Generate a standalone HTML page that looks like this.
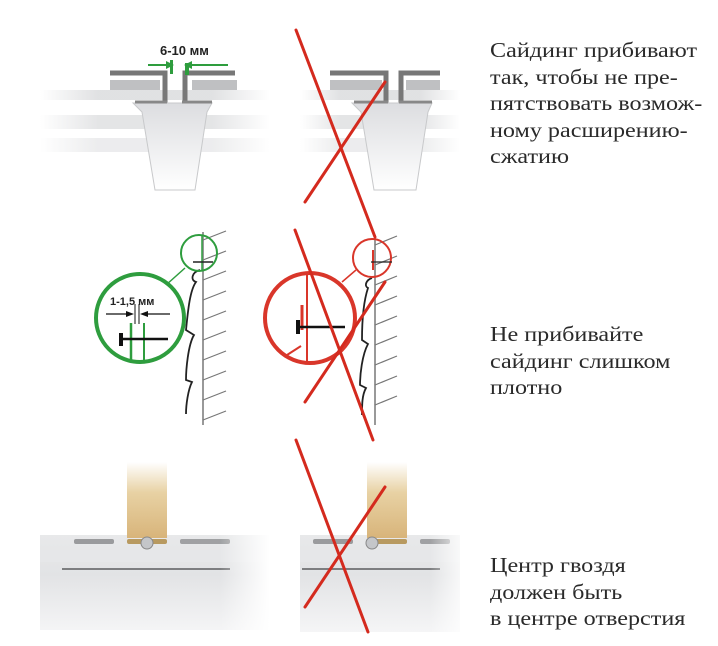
<!DOCTYPE html>
<html><head><meta charset="utf-8"><style>
html,body{margin:0;padding:0;background:#fff;}
body{width:718px;height:646px;overflow:hidden;position:relative;}
.t{position:absolute;left:490px;font-family:"Liberation Serif","Noto Serif CJK SC",serif;font-size:21px;line-height:26.5px;color:#2a2a2a;transform:scaleX(1.15);transform-origin:0 0;white-space:nowrap;}
</style></head><body>
<svg width="718" height="646" style="position:absolute;left:0;top:0">
<defs>
<linearGradient id="fadeH" x1="0" x2="1"><stop offset="0" stop-color="#fff"/><stop offset="0.25" stop-color="#d9dadc"/><stop offset="0.75" stop-color="#d9dadc"/><stop offset="1" stop-color="#fff"/></linearGradient>
<linearGradient id="tch" x1="0" y1="0" x2="0" y2="1"><stop offset="0" stop-color="#dcdde0"/><stop offset="1" stop-color="#fff"/></linearGradient>
<linearGradient id="wood" x1="0" y1="0" x2="0" y2="1"><stop offset="0" stop-color="#fff"/><stop offset="0.4" stop-color="#e8d2a4"/><stop offset="1" stop-color="#d8b47a"/></linearGradient>
<linearGradient id="rail" x1="0" y1="0" x2="0" y2="1"><stop offset="0" stop-color="#e8e9ea"/><stop offset="0.4" stop-color="#e2e3e5"/><stop offset="1" stop-color="#f6f6f7"/></linearGradient>
<linearGradient id="edgeL" x1="0" x2="1"><stop offset="0" stop-color="#fff"/><stop offset="1" stop-color="#fff" stop-opacity="0"/></linearGradient>
<linearGradient id="edgeR" x1="0" x2="1"><stop offset="0" stop-color="#fff" stop-opacity="0"/><stop offset="1" stop-color="#fff"/></linearGradient>
</defs>

<!-- TOP LEFT -->
<g>
<rect x="40" y="90" width="230" height="10" fill="url(#fadeH)" opacity="0.8"/>
<rect x="40" y="115" width="230" height="14" fill="url(#fadeH)" opacity="0.7"/>
<rect x="40" y="138" width="230" height="14" fill="url(#fadeH)" opacity="0.5"/>
<path d="M110 73 H165 V108" fill="none" stroke="#777" stroke-width="5"/>
<path d="M185 108 V73 H235" fill="none" stroke="#777" stroke-width="5"/>
<rect x="110" y="80" width="50" height="10" fill="#bfc0c2"/>
<rect x="192" y="80" width="45" height="10" fill="#bfc0c2"/>
<path d="M133 103 H212 L207 112 L195 190 H155 L142 112 Z" fill="url(#tch)" stroke="#c8c9cb" stroke-width="1"/>
<path d="M135 102 H167 M182 102 H212" stroke="#888" stroke-width="3"/>
<rect x="170" y="60" width="3" height="14" fill="#2e9d3e"/>
<rect x="185" y="63" width="4" height="12" fill="#2e9d3e"/>
<line x1="148" y1="65" x2="172" y2="65" stroke="#2e9d3e" stroke-width="2"/>
<polygon points="174,65 166,61 166,69" fill="#2e9d3e"/>
<line x1="186" y1="65" x2="228" y2="65" stroke="#2e9d3e" stroke-width="2"/>
<polygon points="184,65 192,61 192,69" fill="#2e9d3e"/>
<text x="160" y="55" font-family="Liberation Sans,sans-serif" font-weight="bold" font-size="13" fill="#222">6-10 мм</text>
</g>

<!-- TOP RIGHT -->
<g>
<rect x="300" y="90" width="160" height="10" fill="url(#fadeH)" opacity="0.8"/>
<rect x="300" y="115" width="160" height="14" fill="url(#fadeH)" opacity="0.7"/>
<rect x="300" y="138" width="160" height="14" fill="url(#fadeH)" opacity="0.5"/>
<path d="M330 73 H386 V108" fill="none" stroke="#777" stroke-width="5"/>
<path d="M401 108 V73 H440" fill="none" stroke="#777" stroke-width="5"/>
<rect x="330" y="80" width="52" height="10" fill="#bfc0c2"/>
<rect x="406" y="80" width="34" height="10" fill="#bfc0c2"/>
<path d="M352 103 H432 L428 112 L416 190 H374 L361 112 Z" fill="url(#tch)" stroke="#c8c9cb"/>
<path d="M354 102 H388 M399 102 H432" stroke="#888" stroke-width="3"/>
</g>

<!-- MIDDLE LEFT -->
<g fill="none">
<line x1="203" y1="232" x2="203" y2="425" stroke="#999" stroke-width="2"/>
<g stroke="#777" stroke-width="1.2">
<line x1="203" y1="240" x2="226" y2="231"/><line x1="203" y1="260" x2="226" y2="251"/>
<line x1="203" y1="280" x2="226" y2="271"/><line x1="203" y1="300" x2="226" y2="291"/>
<line x1="203" y1="320" x2="226" y2="311"/><line x1="203" y1="340" x2="226" y2="331"/>
<line x1="203" y1="360" x2="226" y2="351"/><line x1="203" y1="380" x2="226" y2="371"/>
<line x1="203" y1="400" x2="226" y2="391"/><line x1="203" y1="420" x2="226" y2="411"/>
</g>
<path d="M200 270 C192 272 190 280 196 282 C190 290 188 310 186 330 L194 335 C188 345 186 370 186 380 L192 382 C188 390 186 405 186 414" stroke="#222" stroke-width="1.8"/>
<circle cx="199" cy="253" r="18" stroke="#2e9d3e" stroke-width="2"/>
<line x1="202" y1="235" x2="202" y2="271" stroke="#2e9d3e" stroke-width="1.5"/>
<line x1="193" y1="262" x2="213" y2="262" stroke="#222" stroke-width="1.5"/>
<line x1="185" y1="268" x2="166" y2="285" stroke="#2e9d3e" stroke-width="1.5"/>
<circle cx="140" cy="318" r="44" stroke="#2e9d3e" stroke-width="4"/>
<line x1="131" y1="323" x2="131" y2="360" stroke="#2e9d3e" stroke-width="2.5"/>
<line x1="144" y1="323" x2="144" y2="360" stroke="#2e9d3e" stroke-width="2"/>
<line x1="120" y1="339" x2="168" y2="339" stroke="#111" stroke-width="2.5"/>
<line x1="121" y1="333" x2="121" y2="346" stroke="#111" stroke-width="4"/>
<line x1="135" y1="304" x2="135" y2="324" stroke="#111" stroke-width="1"/>
<line x1="139" y1="304" x2="139" y2="324" stroke="#111" stroke-width="1"/>
<line x1="106" y1="314" x2="130" y2="314" stroke="#111" stroke-width="1.3"/>
<polygon points="134,314 126,311 126,317" fill="#111"/>
<line x1="145" y1="314" x2="170" y2="314" stroke="#111" stroke-width="1.3"/>
<polygon points="140,314 148,311 148,317" fill="#111"/>
<text x="110" y="305" font-family="Liberation Sans,sans-serif" font-weight="bold" font-size="11" fill="#222" stroke="none">1-1,5 мм</text>
</g>

<!-- MIDDLE RIGHT -->
<g fill="none">
<line x1="375" y1="235" x2="375" y2="425" stroke="#999" stroke-width="2"/>
<g stroke="#777" stroke-width="1.2">
<line x1="375" y1="245" x2="397" y2="236"/><line x1="375" y1="265" x2="397" y2="256"/>
<line x1="375" y1="285" x2="397" y2="276"/><line x1="375" y1="305" x2="397" y2="296"/>
<line x1="375" y1="325" x2="397" y2="316"/><line x1="375" y1="345" x2="397" y2="336"/>
<line x1="375" y1="365" x2="397" y2="356"/><line x1="375" y1="385" x2="397" y2="376"/>
<line x1="375" y1="405" x2="397" y2="396"/>
</g>
<path d="M372 278 C366 280 364 286 368 288 C364 300 362 320 362 340 L368 344 C362 355 360 375 360 385 L366 388 C362 395 362 405 362 415" stroke="#222" stroke-width="1.8"/>
<circle cx="372" cy="258" r="19" stroke="#d9362a" stroke-width="2"/>
<line x1="373" y1="250" x2="373" y2="270" stroke="#d9362a" stroke-width="2"/>
<line x1="371" y1="262" x2="392" y2="262" stroke="#222" stroke-width="1.2"/>
<line x1="356" y1="270" x2="342" y2="282" stroke="#d9362a" stroke-width="1.5"/>
<circle cx="310" cy="318" r="45" stroke="#d9362a" stroke-width="4"/>
<line x1="307" y1="274" x2="307" y2="362" stroke="#d9362a" stroke-width="2"/>
<line x1="302" y1="305" x2="302" y2="330" stroke="#d9362a" stroke-width="3"/>
<line x1="296" y1="327" x2="345" y2="327" stroke="#111" stroke-width="2.5"/>
<line x1="298" y1="320" x2="298" y2="334" stroke="#111" stroke-width="4"/>
<line x1="301" y1="346" x2="287" y2="355" stroke="#d9362a" stroke-width="2"/>
</g>

<!-- BOTTOM LEFT -->
<g>
<rect x="40" y="535" width="230" height="100" fill="url(#rail)"/>
<rect x="127" y="462" width="40" height="76" fill="url(#wood)"/>
<rect x="40" y="550" width="230" height="12" fill="#e6e7e9"/>
<line x1="62" y1="569" x2="230" y2="569" stroke="#7d7e80" stroke-width="2"/>
<rect x="74" y="539" width="40" height="5" rx="2" fill="#9a9b9d"/>
<rect x="127" y="539" width="40" height="5" rx="2" fill="#b89a60"/>
<rect x="180" y="539" width="50" height="5" rx="2" fill="#a0a1a3"/>
<circle cx="147" cy="543" r="6" fill="#c4c6c9" stroke="#888"/>
<rect x="220" y="530" width="50" height="110" fill="url(#edgeR)"/>
<rect x="0" y="630" width="718" height="16" fill="#fff"/>
</g>

<!-- BOTTOM RIGHT -->
<g>
<rect x="300" y="535" width="160" height="100" fill="url(#rail)"/>
<rect x="367" y="462" width="40" height="76" fill="url(#wood)"/>
<rect x="300" y="550" width="160" height="12" fill="#e6e7e9"/>
<line x1="302" y1="569" x2="440" y2="569" stroke="#7d7e80" stroke-width="2"/>
<rect x="313" y="539" width="40" height="5" rx="2" fill="#9a9b9d"/>
<rect x="367" y="539" width="40" height="5" rx="2" fill="#b89a60"/>
<rect x="420" y="539" width="30" height="5" rx="2" fill="#a0a1a3"/>
<circle cx="372" cy="543" r="6" fill="#c4c6c9" stroke="#888"/>
<rect x="430" y="530" width="40" height="110" fill="url(#edgeR)"/>
<rect x="0" y="632" width="718" height="14" fill="#fff"/>
</g>

<!-- Red X marks -->
<g stroke="#d42a1e" stroke-width="3" stroke-linecap="round">
<line x1="296" y1="30" x2="375" y2="237"/>
<line x1="305" y1="202" x2="385" y2="82"/>
<line x1="295" y1="230" x2="373" y2="440"/>
<line x1="305" y1="402" x2="385" y2="282"/>
<line x1="296" y1="440" x2="368" y2="632"/>
<line x1="305" y1="607" x2="385" y2="487"/>
</g>
</svg>
<div class="t" style="top:37px">Сайдинг прибивают<br>так, чтобы не пре-<br>пятствовать возмож-<br>ному расширению-<br>сжатию</div>
<div class="t" style="top:321px">Не прибивайте<br>сайдинг слишком<br>плотно</div>
<div class="t" style="top:552px">Центр гвоздя<br>должен быть<br>в центре отверстия</div>
</body></html>
